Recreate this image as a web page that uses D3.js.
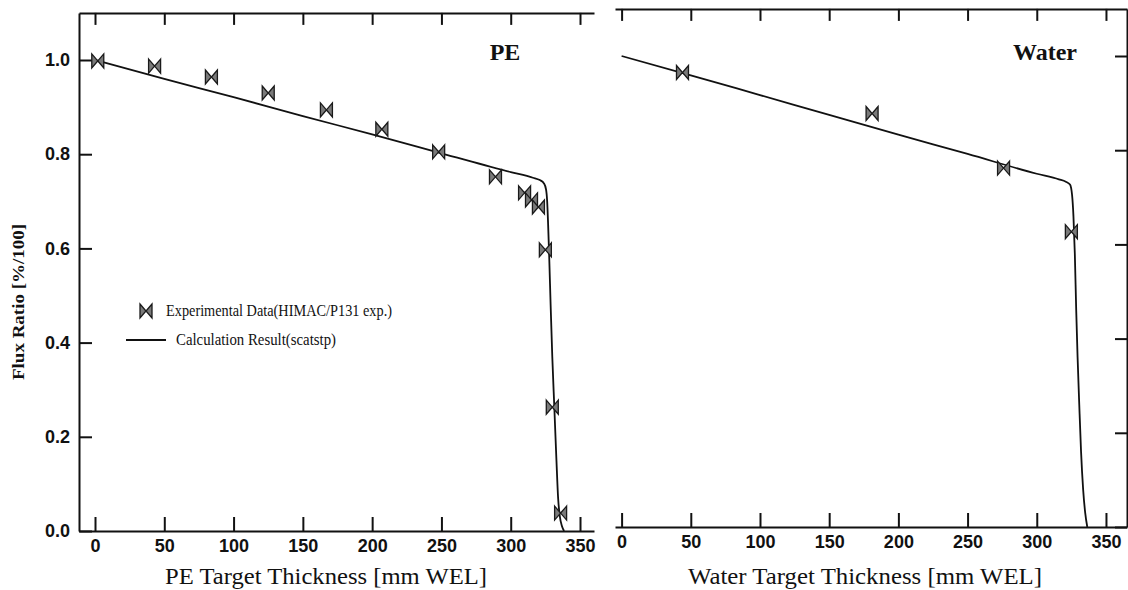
<!DOCTYPE html>
<html><head><meta charset="utf-8">
<script src="https://cdn.jsdelivr.net/npm/d3@7"></script>
<style>
html,body{margin:0;padding:0;background:#fff;}
svg{display:block;}
.tick text{font-family:"Liberation Sans Narrow","Liberation Sans",sans-serif;font-weight:bold;font-size:18px;fill:#111;}
</style></head>
<body>
<svg id="chart" width="1128" height="590"></svg>
<script>
// ---- data ----
const xTicks = [0, 50, 100, 150, 200, 250, 300, 350];
const yTicks = [0, 0.2, 0.4, 0.6, 0.8, 1.0];
const yTickLabels = ["0.0", "0.2", "0.4", "0.6", "0.8", "1.0"];

const peExpX = [2, 43, 84, 125, 167, 207, 248, 289, 310, 315, 320, 325, 330, 336];
const peExpY = [0.998, 0.987, 0.964, 0.930, 0.894, 0.853, 0.805, 0.752, 0.718, 0.703, 0.688, 0.597, 0.263, 0.038];
const peCalcX = [0, 50, 100, 150, 200, 250, 300, 316, 321, 324, 325.5, 326.3, 327, 327.8, 328.8, 330, 331.5, 333, 334.2, 335.5, 337, 338.5];
const peCalcY = [1.0, 0.960, 0.921, 0.881, 0.842, 0.802, 0.762, 0.750, 0.745, 0.738, 0.725, 0.70, 0.65, 0.58, 0.48, 0.37, 0.26, 0.15, 0.07, 0.03, 0.01, 0.0];

const waterExpX = [44, 181, 276, 325];
const waterExpY = [0.965, 0.878, 0.762, 0.627];
const waterCalcX = [0, 50, 100, 150, 200, 250, 300, 316, 321, 324, 325.5, 326.5, 327.5, 328.5, 329.5, 330.7, 332, 333.5, 335, 336.5];
const waterCalcY = [1.0, 0.959, 0.917, 0.875, 0.833, 0.792, 0.750, 0.738, 0.733, 0.727, 0.705, 0.66, 0.58, 0.46, 0.36, 0.26, 0.16, 0.08, 0.03, 0.0];

const legendLabels = ["Experimental Data(HIMAC/P131 exp.)", "Calculation Result(scatstp)"];
const yTitle = "Flux Ratio [%/100]";

const panels = [
  {name: "PE", xTitle: "PE Target Thickness [mm WEL]", ex: peExpX, ey: peExpY, cx: peCalcX, cy: peCalcY,
   xDom: [-11.55, 360.1], xRange: [79, 594], yDom: [0, 1.1], yRange: [531, 12.9],
   leftAxis: true, rightAxis: false, nameX: 505, titleX: 326, titleLen: 322},
  {name: "Water", xTitle: "Water Target Thickness [mm WEL]", ex: waterExpX, ey: waterExpY, cx: waterCalcX, cy: waterCalcY,
   xDom: [-4.77, 365.2], xRange: [615, 1127], yDom: [0, 1.1], yRange: [527, 8.9],
   leftAxis: false, rightAxis: true, nameX: 1045, titleX: 865, titleLen: 354}
];

const svg = d3.select("#chart");
const serif = "'Liberation Serif','DejaVu Serif',serif";
const bowtie = "M-6,-7 L0,0 L-6,7 Z M6,-7 L0,0 L6,7 Z";

function styleAxis(g) {
  g.select(".domain").attr("stroke", "#111").attr("stroke-width", 2);
  g.selectAll(".tick line").attr("stroke", "#111").attr("stroke-width", 2);
}

panels.forEach(p => {
  const x = d3.scaleLinear().domain(p.xDom).range(p.xRange);
  const y = d3.scaleLinear().domain(p.yDom).range(p.yRange);
  const g = svg.append("g");

  g.append("g").attr("transform", `translate(0,${p.yRange[0]})`)
    .call(d3.axisBottom(x).tickValues(xTicks).tickSize(-14).tickSizeOuter(0).tickPadding(8))
    .call(styleAxis);
  g.append("g").attr("transform", `translate(0,${p.yRange[1]})`)
    .call(d3.axisTop(x).tickValues(xTicks).tickSize(-12).tickSizeOuter(0).tickFormat(""))
    .call(styleAxis);
  if (p.leftAxis) {
    g.append("g").attr("transform", `translate(${p.xRange[0]},0)`)
      .call(d3.axisLeft(y).tickValues(yTicks).tickSize(-13).tickSizeOuter(0).tickPadding(9)
        .tickFormat((d, i) => yTickLabels[i]))
      .call(styleAxis);
  }
  if (p.rightAxis) {
    g.append("g").attr("transform", `translate(${p.xRange[1]},0)`)
      .call(d3.axisRight(y).tickValues(yTicks).tickSize(-12).tickSizeOuter(0).tickFormat(""))
      .call(styleAxis);
  }

  const calc = p.cx.map((v, i) => [v, p.cy[i]]);
  g.append("path").datum(calc)
    .attr("fill", "none").attr("stroke", "#111").attr("stroke-width", 1.8)
    .attr("d", d3.line().x(d => x(d[0])).y(d => y(d[1])).curve(d3.curveMonotoneX));

  const exp = p.ex.map((v, i) => [v, p.ey[i]]);
  g.selectAll(".mk").data(exp).enter().append("path")
    .attr("transform", d => `translate(${x(d[0])},${y(d[1])})`)
    .attr("d", bowtie).attr("fill", "#7a7a7a").attr("stroke", "#1a1a1a").attr("stroke-width", 1.3);

  g.append("text").attr("x", p.nameX).attr("y", 60).attr("text-anchor", "middle")
    .attr("font-family", serif).attr("font-weight", "bold").attr("font-size", 24).attr("fill", "#111")
    .text(p.name);
  g.append("text").attr("x", p.titleX).attr("y", 584).attr("text-anchor", "middle")
    .attr("font-family", serif).attr("font-size", 23).attr("fill", "#111")
    .attr("textLength", p.titleLen).attr("lengthAdjust", "spacingAndGlyphs")
    .text(p.xTitle);
});

svg.append("text").attr("transform", "translate(24,302) rotate(-90)").attr("text-anchor", "middle")
  .attr("font-family", serif).attr("font-weight", "bold").attr("font-size", 17).attr("fill", "#111")
  .attr("textLength", 156).attr("lengthAdjust", "spacingAndGlyphs")
  .text(yTitle);

const lg = svg.append("g");
lg.append("path").attr("transform", "translate(146,311)").attr("d", bowtie)
  .attr("fill", "#7a7a7a").attr("stroke", "#1a1a1a").attr("stroke-width", 1.3);
lg.append("text").attr("x", 166).attr("y", 316).attr("font-family", serif).attr("font-size", 17)
  .attr("fill", "#111").attr("textLength", 226).attr("lengthAdjust", "spacingAndGlyphs").text(legendLabels[0]);
lg.append("line").attr("x1", 126).attr("x2", 166).attr("y1", 340).attr("y2", 340)
  .attr("stroke", "#111").attr("stroke-width", 1.8);
lg.append("text").attr("x", 176).attr("y", 345).attr("font-family", serif).attr("font-size", 17)
  .attr("fill", "#111").attr("textLength", 160).attr("lengthAdjust", "spacingAndGlyphs").text(legendLabels[1]);
</script>
</body></html>
